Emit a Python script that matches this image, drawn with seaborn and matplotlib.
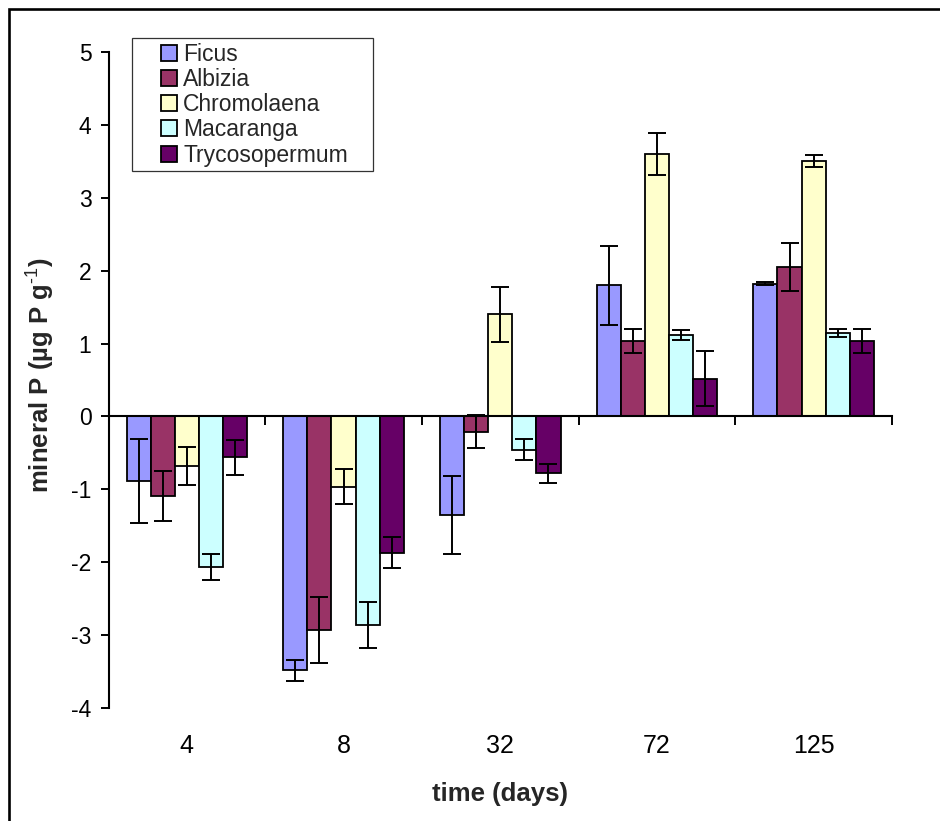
import numpy as np
import pandas as pd
import seaborn as sns
import matplotlib
matplotlib.use("Agg")
import matplotlib.pyplot as plt
from matplotlib.patches import Rectangle
from matplotlib.legend_handler import HandlerPatch

# ---------------- data ----------------
days = ["4", "8", "32", "72", "125"]
species = ["Ficus", "Albizia", "Chromolaena", "Macaranga", "Trycosopermum"]
colors = ["#9999FF", "#993366", "#FFFFCC", "#CCFFFF", "#660066"]

ficus = [-0.88, -3.48, -1.345, 1.80, 1.82]
ficus_err = [0.575, 0.14, 0.535, 0.54, 0.02]
albizia = [-1.087, -2.93, -0.21, 1.03, 2.05]
albizia_err = [0.34, 0.45, 0.228, 0.165, 0.33]
chromolaena = [-0.68, -0.96, 1.40, 3.60, 3.50]
chromolaena_err = [0.26, 0.24, 0.375, 0.29, 0.08]
macaranga = [-2.06, -2.86, -0.455, 1.12, 1.15]
macaranga_err = [0.175, 0.32, 0.14, 0.065, 0.055]
tryco = [-0.56, -1.865, -0.78, 0.52, 1.03]
tryco_err = [0.24, 0.215, 0.125, 0.375, 0.165]

values = [ficus, albizia, chromolaena, macaranga, tryco]
errors = [ficus_err, albizia_err, chromolaena_err, macaranga_err, tryco_err]

df = pd.DataFrame(
    [(d, s, v) for s, vals in zip(species, values) for d, v in zip(days, vals)],
    columns=["day", "species", "value"],
)

# ---------------- style ----------------
sns.set_theme(style="ticks")
plt.rcParams["font.family"] = ["Liberation Sans", "DejaVu Sans"]
plt.rcParams["mathtext.fontset"] = "custom"
plt.rcParams["mathtext.rm"] = "Liberation Sans"
plt.rcParams["mathtext.default"] = "regular"

W, H = 940, 821
fig = plt.figure(figsize=(W / 100, H / 100), dpi=100)
fig.patch.set_facecolor("white")
ax = fig.add_axes([108.5 / W, 112.7 / H, 783.5 / W, 656.6 / H])
ax.set_facecolor("white")

sns.barplot(
    data=df, x="day", y="value", hue="species",
    order=days, hue_order=species, palette=colors,
    width=5 / 6.5, edgecolor="black", linewidth=1.3,
    errorbar=None, saturation=1, legend=False, ax=ax, zorder=2,
)

bar_containers = list(ax.containers)
for cont, vals, errs in zip(bar_containers, values, errors):
    xs = [p.get_x() + p.get_width() / 2 for p in cont.patches]
    ax.errorbar(xs, vals, yerr=errs, fmt="none", ecolor="black",
                elinewidth=1.4, capsize=6.6, capthick=1.4, zorder=4)

# ---------------- axes ----------------
ax.set_xlim(-0.5, 4.5)
ax.set_ylim(-4, 5)
ax.set_yticks(range(-4, 6))
ax.set_yticklabels([str(v) for v in range(-4, 6)])
ax.tick_params(axis="y", direction="out", length=5.8, width=1.4,
               pad=6.5, labelsize=16.5, colors="black")

for s in ["top", "right"]:
    ax.spines[s].set_visible(False)
ax.spines["left"].set_linewidth(1.5)
ax.spines["left"].set_color("black")
ax.spines["bottom"].set_position(("data", 0))
ax.spines["bottom"].set_linewidth(1.5)
ax.spines["bottom"].set_color("black")
ax.spines["bottom"].set_zorder(5)

boundaries = np.arange(-0.5, 5.0, 1.0)
ax.set_xticks(boundaries)
ax.set_xticklabels([""] * len(boundaries))
ax.tick_params(axis="x", direction="out", length=6.3, width=1.4, colors="black")

sec = ax.secondary_xaxis("bottom")
sec.set_xticks(range(len(days)))
sec.set_xticklabels(days)
sec.tick_params(axis="x", length=0, pad=18.5, labelsize=18, colors="black")
sec.spines["bottom"].set_visible(False)
sec.set_xlabel("time (days)", fontsize=18.5, fontweight="bold", labelpad=17)

ax.set_xlabel("")
ax.set_ylabel(r"mineral P (µg P g$^{\text{-1}}$)", fontsize=18.5, fontweight="bold",
              va="center", ha="center")
ax.yaxis.set_label_coords((41 - 108.5) / 783.5, 0.507)

# ---------------- legend ----------------
SQ = 16 * 0.72  # square side in points


def square_patch(legend, orig_handle, xdescent, ydescent, width, height, fontsize):
    return Rectangle((-xdescent + width - SQ, -ydescent + (height - SQ) / 2), SQ, SQ)


handles = [c.patches[0] for c in bar_containers]
leg = ax.legend(
    handles, species,
    handler_map={Rectangle: HandlerPatch(patch_func=square_patch)},
    loc="upper left", mode="expand",
    bbox_to_anchor=(132 / W, 1 - 173 / H, 241 / W, 135 / H),
    bbox_transform=fig.transFigure,
    fontsize=16.5, handlelength=1.78, handleheight=0.7, handletextpad=0.25,
    labelspacing=0.1, borderpad=0.2, borderaxespad=0.0,
    frameon=True, fancybox=False, framealpha=1, edgecolor="#333333",
)
leg.get_frame().set_linewidth(0.9)
leg.set_zorder(10)

# ---------------- outer frame ----------------
frame = Rectangle((9 / W, -0.1), 1.2, (1 - 9.5 / H) + 0.1,
                  transform=fig.transFigure, fill=False,
                  edgecolor="black", linewidth=1.9, clip_on=False)
fig.add_artist(frame)

fig.savefig("out.png", dpi=100, facecolor="white")
